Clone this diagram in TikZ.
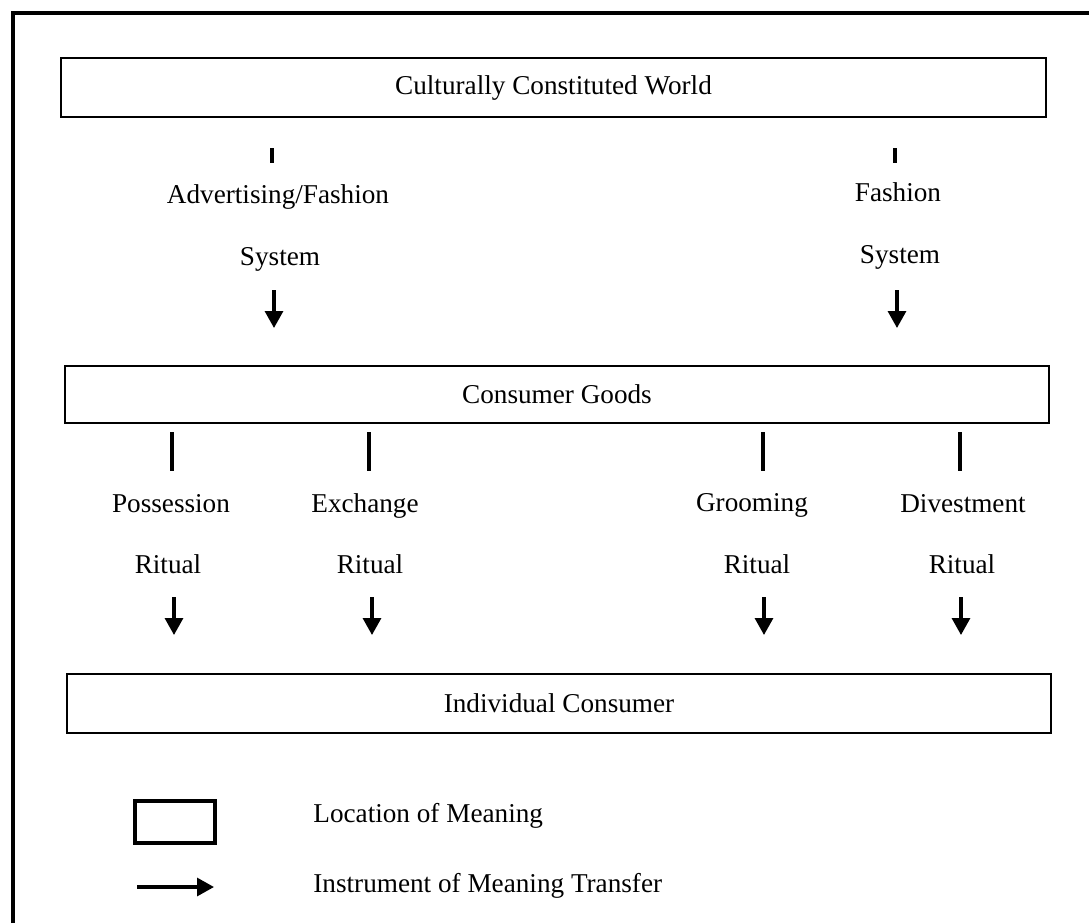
\documentclass[tikz,border=0pt]{standalone}
\usepackage{fontspec}
\setmainfont{Liberation Serif}
\usetikzlibrary{arrows.meta}
\tikzset{
  location/.style={draw, line width=1.2pt, inner sep=0pt, outer sep=0pt},
  stub/.style={line width=1.7pt},
  transfer/.style={line width=1.6pt, -{Triangle[width=9pt,length=8.5pt]}},
  caption/.style={anchor=base, inner sep=0pt}
}
\begin{document}
\begin{tikzpicture}[x=0.5pt, y=-0.5pt, font=\fontsize{13.6}{16}\selectfont]
      \useasboundingbox (0,0) rectangle (1089,923);
      \draw[line width=2pt] (13,923) -- (13,13) -- (1089,13);
      % locations of meaning
      \node[location, minimum width=492.5pt, minimum height=29.5pt] (world) at (553.5,87.5) {Culturally Constituted World};
      \node[location, minimum width=492pt, minimum height=28.5pt] (goods) at (557,394.5) {Consumer Goods};
      \node[location, minimum width=492pt, minimum height=29.5pt] (consumer) at (559,703.5) {Individual Consumer};
      % instruments
      \node[caption] (adv) at (278,203) {Advertising/Fashion};
      \node[caption] (advsys) at (280,265) {System};
      \node[caption] (fash) at (898,201) {Fashion};
      \node[caption] (fashsys) at (900,263) {System};
      \node[caption] (poss) at (171,512) {Possession};
      \node[caption] (possrit) at (168,573) {Ritual};
      \node[caption] (exch) at (365,512) {Exchange};
      \node[caption] (exchrit) at (370,573) {Ritual};
      \node[caption] (groom) at (752,511) {Grooming};
      \node[caption] (groomrit) at (757,573) {Ritual};
      \node[caption] (divest) at (963,512) {Divestment};
      \node[caption] (divestrit) at (962,573) {Ritual};
      % stubs and arrows
      \coordinate (adv-a) at (272,148);  \coordinate (adv-b) at (272,163);
      \coordinate (adv-c) at (274,290);  \coordinate (adv-d) at (274,328);
      \coordinate (fash-a) at (895,148); \coordinate (fash-b) at (895,163);
      \coordinate (fash-c) at (897,290); \coordinate (fash-d) at (897,328);
      \coordinate (poss-a) at (172,432); \coordinate (poss-b) at (172,471);
      \coordinate (poss-c) at (174,597); \coordinate (poss-d) at (174,635);
      \coordinate (exch-a) at (369,432); \coordinate (exch-b) at (369,471);
      \coordinate (exch-c) at (372,597); \coordinate (exch-d) at (372,635);
      \coordinate (groom-a) at (763,432); \coordinate (groom-b) at (763,471);
      \coordinate (groom-c) at (764,597); \coordinate (groom-d) at (764,635);
      \coordinate (divest-a) at (960,432); \coordinate (divest-b) at (960,471);
      \coordinate (divest-c) at (961,597); \coordinate (divest-d) at (961,635);
      \draw[stub] (adv-a) -- (adv-b);
      \draw[transfer] (adv-c) -- (adv-d);
      \draw[stub] (fash-a) -- (fash-b);
      \draw[transfer] (fash-c) -- (fash-d);
      \draw[stub] (poss-a) -- (poss-b);
      \draw[transfer] (poss-c) -- (poss-d);
      \draw[stub] (exch-a) -- (exch-b);
      \draw[transfer] (exch-c) -- (exch-d);
      \draw[stub] (groom-a) -- (groom-b);
      \draw[transfer] (groom-c) -- (groom-d);
      \draw[stub] (divest-a) -- (divest-b);
      \draw[transfer] (divest-c) -- (divest-d);
      % key
      \node[location, line width=2pt, minimum width=40pt, minimum height=21pt] (keybox) at (175,822) {};
      \node[caption, anchor=base west] (keybox-text) at (313,822) {Location of Meaning};
      \coordinate (keyarrow-a) at (137,887); \coordinate (keyarrow-b) at (214,887);
      \draw[transfer] (keyarrow-a) -- (keyarrow-b);
      \node[caption, anchor=base west] (keyarrow-text) at (313,892) {Instrument of Meaning Transfer};
    \end{tikzpicture}
\end{document}
